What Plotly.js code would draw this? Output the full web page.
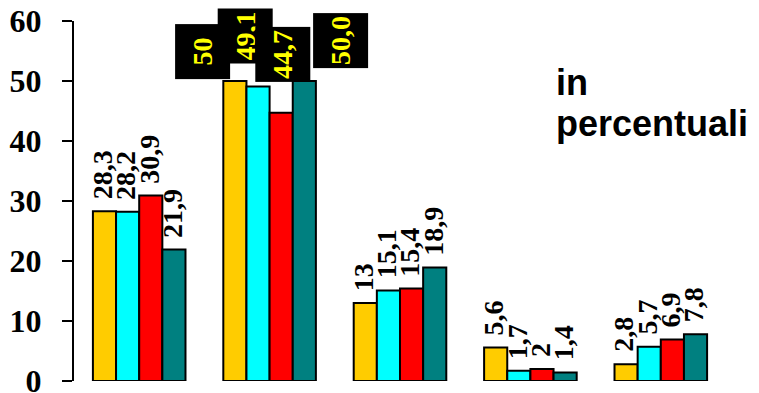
<!DOCTYPE html>
<html>
<head>
<meta charset="utf-8">
<script src="https://cdn.plot.ly/plotly-3.0.1.min.js"></script>
<style>html,body{margin:0;padding:0;background:#fff;}#chart{width:759px;height:393px;}</style>
</head>
<body>
<div id="chart"></div>
<script>
// ---- data ----
const categories = ['G1', 'G2', 'G3', 'G4', 'G5'];
const serie1 = [28.3, 50, 13, 5.6, 2.8];
const serie2 = [28.2, 49.1, 15.1, 1.7, 5.7];
const serie3 = [30.9, 44.7, 15.4, 2, 6.9];
const serie4 = [21.9, 50.0, 18.9, 1.4, 7.8];
const labels1 = ['28,3', '50', '13', '5,6', '2,8'];
const labels2 = ['28,2', '49,1', '15,1', '1,7', '5,7'];
const labels3 = ['30,9', '44,7', '15,4', '2', '6,9'];
const labels4 = ['21,9', '50,0', '18,9', '1,4', '7,8'];
const yTicks = [0, 10, 20, 30, 40, 50, 60];
const noteLines = ['in', 'percentuali'];
const boxedCategory = 1; // group whose labels are drawn in black boxes

// ---- styles ----
const colors = ['#FFCC00', '#00FFFF', '#FF0000', '#008080'];
const series = [serie1, serie2, serie3, serie4];
const labels = [labels1, labels2, labels3, labels4];
const margin = {l: 74, r: 33, t: 21, b: 12};
const bargap = 0.29;
const W = 759, H = 393;
const catPx = (W - margin.l - margin.r) / categories.length;
const barPx = catPx * (1 - bargap) / series.length;
const serif = 'Liberation Serif, Times New Roman, Times, serif';
// boxed label offsets (px) relative to bar group centre / value
const boxShiftX = [-67, -24, 13, 71];
const boxShiftY = [29, 50, 58, 40];

const traces = series.map((vals, j) => ({
  type: 'bar',
  x: categories,
  y: vals,
  marker: {color: colors[j], line: {color: '#000', width: 2}},
  hoverinfo: 'none'
}));

const annotations = [];
series.forEach((vals, j) => {
  vals.forEach((v, i) => {
    if (i === boxedCategory) {
      annotations.push({
        x: categories[i], y: v, xref: 'x', yref: 'y',
        text: labels[j][i], showarrow: false, textangle: -90,
        xanchor: 'center', yanchor: 'middle',
        xshift: boxShiftX[j], yshift: boxShiftY[j],
        bgcolor: '#000', width: 52, height: 52,
        font: {family: serif, size: 28, color: '#FFFF00', weight: 'bold'}
      });
    } else {
      annotations.push({
        x: categories[i], y: v, xref: 'x', yref: 'y',
        text: labels[j][i], showarrow: false, textangle: -90,
        xanchor: 'center', yanchor: 'bottom',
        xshift: (j - 1.5) * barPx - 2, yshift: 10,
        font: {family: serif, size: 28, color: '#000', weight: 'bold'}
      });
    }
  });
});
const noteY = [0.83, 0.714];
noteLines.forEach((t, k) => {
  annotations.push({
    x: 0.736, y: noteY[k], xref: 'paper', yref: 'paper',
    xanchor: 'left', yanchor: 'middle', showarrow: false, text: t,
    font: {family: 'Liberation Sans, Arial, sans-serif', size: 36, color: '#000', weight: 'bold'}
  });
});

const layout = {
  width: W, height: H,
  margin: margin,
  paper_bgcolor: '#fff', plot_bgcolor: '#fff',
  showlegend: false,
  barmode: 'group',
  bargap: bargap, bargroupgap: 0,
  xaxis: {type: 'category', categoryarray: categories, range: [-0.5, categories.length - 0.5], showline: false,
    showticklabels: false, ticks: '', showgrid: false, zeroline: false},
  yaxis: {range: [0, 60], tickvals: yTicks, ticktext: yTicks.map(String),
    showline: true, linecolor: '#000', linewidth: 2,
    ticks: 'outside', ticklen: 10, tickwidth: 2, tickcolor: '#000',
    ticklabelstandoff: 14, ticklabeloverflow: 'allow',
    showgrid: false, zeroline: false,
    tickfont: {family: serif, size: 32, color: '#000', weight: 'bold'}},
  annotations: annotations
};

Plotly.newPlot('chart', traces, layout, {displayModeBar: false, staticPlot: true});
</script>
</body>
</html>
